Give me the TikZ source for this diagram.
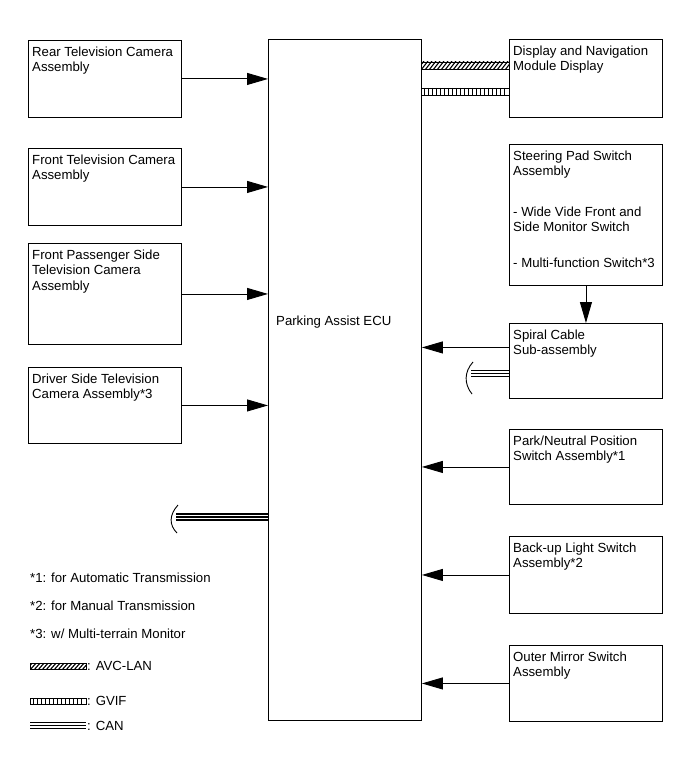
\documentclass[tikz,border=0pt]{standalone}
\usepackage{fontspec}
\setmainfont{Liberation Sans}
\usetikzlibrary{arrows.meta,calc}
\begin{document}
\begin{tikzpicture}[x=1pt,y=-1pt, font=\fontsize{13.2}{15.5}\selectfont,
  box/.style={draw, line width=0.9pt, anchor=north west, minimum width=153pt, inner sep=0pt},
  txt/.style={anchor=north west, align=left, inner sep=0pt},
  arr/.style={line width=0.9pt, -{Triangle[length=21pt,width=12pt]}},
  canw/.style={line width=7.5pt, draw=black},
  canm/.style={line width=4.6pt, draw=white},
  cani/.style={line width=1.9pt, draw=black},
  brk/.style={line width=0.9pt},
]
\useasboundingbox (0,0) rectangle (691,757);
% ECU
\node[box, minimum height=681pt] (ecu) at (268,39) {};
\node[txt, anchor=west] (ecut) at (276,322) {Parking Assist ECU};
% left boxes
\node[box, minimum height=77pt] (rear) at (28,40) {};
\node[txt] (reart) at ([xshift=4pt,yshift=-6.5pt]rear.north west) {Rear Television Camera\\Assembly};
\node[box, minimum height=77pt] (front) at (28,148) {};
\node[txt] (frontt) at ([xshift=4pt,yshift=-6.5pt]front.north west) {Front Television Camera\\Assembly};
\node[box, minimum height=101pt] (pass) at (28,243) {};
\node[txt] (passt) at ([xshift=4pt,yshift=-6.5pt]pass.north west) {Front Passenger Side\\Television Camera\\Assembly};
\node[box, minimum height=76pt] (drv) at (28,367) {};
\node[txt] (drvt) at ([xshift=4pt,yshift=-6.5pt]drv.north west) {Driver Side Television\\Camera Assembly*3};
\foreach \b in {rear,front,pass,drv}
  \draw[arr] (\b.east) -- (\b.east -| ecu.west);
% right boxes
\node[box, minimum height=78pt] (disp) at (509,39) {};
\node[txt] (dispt) at ([xshift=4pt,yshift=-6.5pt]disp.north west) {Display and Navigation\\Module Display};
\node[box, minimum height=141pt] (steer) at (509,144) {};
\node[txt] (steert) at ([xshift=4pt,yshift=-6.5pt]steer.north west) {Steering Pad Switch\\Assembly\\[25pt]- Wide Vide Front and\\Side Monitor Switch\\[20pt]- Multi-function Switch*3};
\node[box, minimum height=75pt] (spiral) at (509,323) {};
\node[txt] (spiralt) at ([xshift=4pt,yshift=-6.5pt]spiral.north west) {Spiral Cable\\Sub-assembly};
\node[box, minimum height=75pt] (park) at (509,429) {};
\node[txt] (parkt) at ([xshift=4pt,yshift=-6.5pt]park.north west) {Park/Neutral Position\\Switch Assembly*1};
\node[box, minimum height=77pt] (back) at (509,536) {};
\node[txt] (backt) at ([xshift=4pt,yshift=-6.5pt]back.north west) {Back-up Light Switch\\Assembly*2};
\node[box, minimum height=76pt] (outer) at (509,645) {};
\node[txt] (outert) at ([xshift=4pt,yshift=-6.5pt]outer.north west) {Outer Mirror Switch\\Assembly};
\foreach \b in {park,back,outer}
  \draw[arr] (\b.west) -- (\b.west -| ecu.east);
\draw[arr] ([yshift=13.5pt]spiral.west) -- ([yshift=13.5pt]spiral.west -| ecu.east);
\draw[arr] (steer.south) -- (spiral.north);
% display bands
\coordinate (avcA) at (ecu.east |- 0,62);
\coordinate (avcB) at (disp.west |- 0,69);
\begin{scope}
  \clip (avcA) rectangle (avcB);
  \foreach \i in {417,421,...,513} \draw[line width=1.1pt] (\i,70) -- (\i+7,61);
\end{scope}
\draw[line width=0.9pt] (avcA) rectangle (avcB);
\coordinate (gvA) at (ecu.east |- 0,88);
\coordinate (gvB) at (disp.west |- 0,95);
\foreach \i in {424,428,...,506} \draw[line width=0.8pt] (\i,88) -- (\i,95);
\draw[line width=0.9pt] (gvA) rectangle (gvB);
% CAN stub at spiral
\coordinate (canR) at (spiral.west |- 0,373.5);
\coordinate (canL) at (471,373.5);
\draw[canw] (canL) -- (canR);
\draw[canm] (canL) -- (canR);
\draw[cani] (canL) -- (canR);
\draw[brk] (473,362) .. controls (464,372) and (464,384) .. (472,394);
% CAN stub at ECU
\coordinate (can2R) at (ecu.west |- 0,517);
\coordinate (can2L) at (176,517);
\draw[canw] (can2L) -- (can2R);
\draw[canm] (can2L) -- (can2R);
\draw[cani] (can2L) -- (can2R);
\draw[brk] (178,505) .. controls (169,515) and (169,525) .. (177,533);
% legend
\node[txt, anchor=west] (n1) at (30,578) {*1: for Automatic Transmission};
\node[txt, anchor=west] (n2) at (30,606) {*2: for Manual Transmission};
\node[txt, anchor=west] (n3) at (30,634) {*3: w/ Multi-terrain Monitor};
\coordinate (lavA) at (30,663);
\coordinate (lavB) at (86,669);
\begin{scope}
  \clip (lavA) rectangle (lavB);
  \foreach \i in {26,30,...,90} \draw[line width=1.1pt] (\i,670) -- (\i+7,662);
\end{scope}
\draw[line width=0.9pt] (lavA) rectangle (lavB);
\node[txt, anchor=west] (l1) at (87,666) {: AVC-LAN};
\coordinate (lgA) at (30,698);
\coordinate (lgB) at (86,704);
\foreach \i in {33,37,...,84} \draw[line width=0.8pt] (\i,698) -- (\i,704);
\draw[line width=0.9pt] (lgA) rectangle (lgB);
\node[txt, anchor=west] (l2) at (87,701) {: GVIF};
\coordinate (lcA) at (30,725.5);
\coordinate (lcB) at (86,725.5);
\draw[canw] (lcA) -- (lcB);
\draw[canm] (lcA) -- (lcB);
\draw[cani] (lcA) -- (lcB);
\node[txt, anchor=west] (l3) at (87,726) {: CAN};
\end{tikzpicture}
\end{document}
